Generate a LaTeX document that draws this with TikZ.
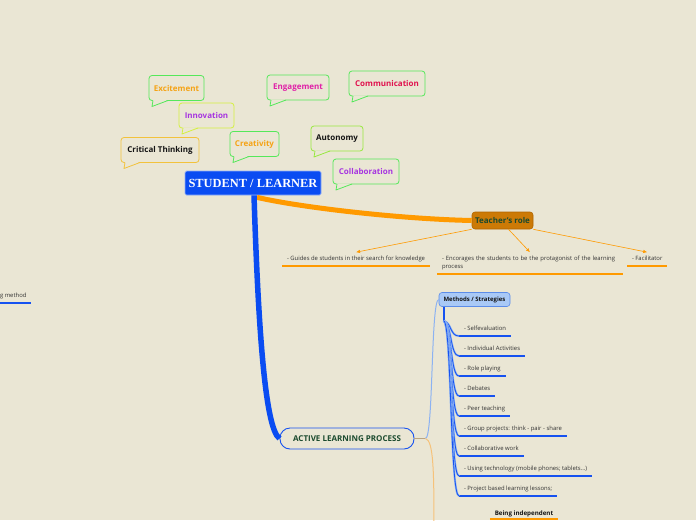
\documentclass[tikz,border=0pt]{standalone}
\usepackage{fontspec}
\setmainfont{Open Sans}
\newfontfamily\serifbold{Liberation Serif}
\usetikzlibrary{calc,arrows.meta}
\definecolor{bg}{HTML}{EAE6D4}
\definecolor{ink}{HTML}{333333}
\definecolor{sblue}{HTML}{0A4CF2}
\definecolor{ublue}{HTML}{1652F0}
\definecolor{lblue}{HTML}{8CB2F2}
\definecolor{mfill}{HTML}{A9C9F6}
\definecolor{mdraw}{HTML}{5C8CE8}
\definecolor{orng}{HTML}{FF9A00}
\definecolor{olight}{HTML}{F6C27A}
\definecolor{tfill}{HTML}{CC7A06}
\definecolor{tdraw}{HTML}{B06600}
\definecolor{dgreen}{HTML}{1B4A2E}
\definecolor{stub}{HTML}{BBA581}
\definecolor{bgreen}{HTML}{55E85A}
\definecolor{byellow}{HTML}{D4F040}
\definecolor{bgold}{HTML}{F2C23C}
\definecolor{blime}{HTML}{98E83E}
\definecolor{korange}{HTML}{F5A315}
\definecolor{kpurple}{HTML}{A634E0}
\definecolor{kmagenta}{HTML}{E020A8}
\definecolor{kred}{HTML}{E0124E}
\definecolor{kblack}{HTML}{141414}
\tikzset{
  bubble/.style={draw=#1, fill=bg, line width=0.8pt, rounded corners=3pt, outer sep=0pt,
    minimum height=25pt, inner xsep=3pt, font=\fontsize{8}{9}\selectfont\bfseries},
  root/.style={fill=sblue, draw=white!55!sblue, line width=0.7pt, rounded corners=1.5pt,
    minimum width=136pt, minimum height=24pt, text=white,
    font=\serifbold\bfseries\fontsize{12.4}{14}\selectfont},
  troot/.style={fill=tfill, draw=tdraw, line width=0.6pt, rounded corners=3pt,
    minimum width=61pt, minimum height=17pt, inner sep=1pt, text=dgreen,
    font=\fontsize{8}{9}\selectfont\bfseries},
  mroot/.style={fill=mfill, draw=mdraw, line width=0.6pt, rounded corners=3pt,
    minimum width=71pt, minimum height=14pt, inner sep=1pt, text=kblack,
    font=\fontsize{6}{7}\selectfont\bfseries},
  aroot/.style={fill=bg, draw=ublue, line width=0.9pt, rounded corners=10pt,
    minimum width=134pt, minimum height=21pt, inner sep=1pt, text=dgreen,
    font=\fontsize{8}{9}\selectfont\bfseries},
  leaf/.style={anchor=south west, inner xsep=5pt, inner ysep=4pt, outer sep=0pt,
    text height=4.3pt, text depth=1.5pt, text=ink, font=\fontsize{5.9}{8}\selectfont},
  bleaf/.style={inner xsep=5pt, inner ysep=2.3pt, outer sep=0pt, text height=4.5pt,
    text depth=1.5pt, text=kblack, font=\fontsize{6.2}{7}\selectfont\bfseries},
  ubl/.style={draw=ublue, line width=1.2pt},
  uor/.style={draw=orng, line width=1.1pt},
  sbranch/.style={draw=sblue, line width=5.5pt},
  obranch/.style={draw=orng, line width=5pt},
  tarrow/.style={draw=orng, line width=0.6pt, -{Latex[length=4pt,width=3.5pt]}},
  mbranch/.style={draw=ublue, line width=0.8pt, preaction={draw=lblue, line width=2pt}},
  mlink/.style={draw=lblue, line width=1pt},
  olink/.style={draw=olight, line width=1pt},
}
\begin{document}
\begin{tikzpicture}[x=1pt,y=-1pt]
  \fill[bg] (0,0) rectangle (696,520);
  \useasboundingbox (0,0) rectangle (696,520);
  % keyword bubbles
  \node[bubble=bgreen, minimum width=55pt, text=korange] (exc) at (176.5,88) {Excitement};
  \node[bubble=byellow, minimum width=55pt, text=kpurple] (inn) at (206.5,115.5) {Innovation};
  \node[bubble=bgold, minimum width=78pt, text=kblack] (crit) at (160,150) {Critical Thinking};
  \node[bubble=bgreen, minimum width=49pt, text=korange] (crea) at (254.5,144) {Creativity};
  \node[bubble=bgreen, minimum width=62pt, text=kmagenta] (eng) at (298,87.5) {Engagement};
  \node[bubble=bgreen, minimum width=76pt, text=kred] (comm) at (387,83.5) {Communication};
  \node[bubble=blime, minimum width=52pt, text=kblack] (aut) at (337,138.5) {Autonomy};
  \node[bubble=bgreen, minimum width=66pt, text=kpurple] (coll) at (366,171.5) {Collaboration};
  \foreach \n/\col in {exc/bgreen, inn/byellow, crit/bgold, crea/bgreen, eng/bgreen,
                       comm/bgreen, aut/blime, coll/bgreen}{
    \fill[bg] ($(\n.south west)+(4,-0.6)$) -- ($(\n.south west)+(3,6)$)
      -- ($(\n.south west)+(19,-0.6)$) -- cycle;
    \draw[\col, line width=0.8pt, line join=round] ($(\n.south west)+(4,0)$)
      -- ($(\n.south west)+(3,6)$) -- ($(\n.south west)+(19,0)$);
  }
  % main topics
  \node[root] (stu) at (253,183) {STUDENT / LEARNER};
  \node[troot] (teach) at (502.5,220.5) {Teacher's role};
  \node[aroot] (act) at (347,438.5) {ACTIVE LEARNING PROCESS};
  \node[mroot] (meth) at (474.5,299.5) {Methods / Strategies};
  \draw[obranch] ($(stu.south)+(4,2)$) .. controls +(43,10) and +(-72,-1.5) .. (teach.west);
  \draw[sbranch] ($(stu.south)+(1,0)$) .. controls +(4,125) and +(-15,-10) .. (act.west);
  % teacher's role
  \node[leaf] (t1) at (282,266) {- Guides de students in their search for knowledge};
  \node[leaf, text width=176pt, align=left, text depth=9.5pt] (t2) at (437,274)
    {- Encorages the students to be the protagonist of the learning\\process};
  \node[leaf] (t3) at (627,266) {- Facilitator};
  \foreach \n in {t1,t2,t3}
    \draw[uor] (\n.south west) -- (\n.south east);
  \draw[tarrow] (teach.south west) -- (t1.north);
  \draw[tarrow] ($(teach.south)+(6,0)$) -- (t2.north);
  \draw[tarrow] (teach.south east) -- (t3.north);
  % active learning
  \coordinate (afork) at ($(act.east)+(11,0)$);
  \coordinate (bfork) at (434,530);
  \draw[draw=stub, line width=1.2pt] (act.east) -- (afork);
  \draw[mlink] (afork) .. controls +(8,0) and +(-8,0) .. (meth.west);
  \draw[olink] (afork) .. controls +(8,2) and +(0,-60) .. (bfork);
  \coordinate (mfork) at ($(meth.south west)+(5,14)$);
  \draw[draw=ublue, line width=1.8pt] ($(meth.south west)+(5,0)$) -- (mfork);
  \foreach \txt [count=\i] in {- Selfevaluation, - Individual Activities, - Role playing,
      - Debates, - Peer teaching, - Group projects: think - pair - share,
      - Collaborative work, - Using technology (mobile phones; tablets\ldots),
      - Project based learning lessons;}{
    \node[leaf] (m\i) at (459,316+20*\i) {\txt};
    \draw[ubl] (m\i.south west) -- (m\i.south east);
    \draw[mbranch] (mfork) .. controls +(8,2) and +(-9,0) .. (m\i.south west);
  }
  \node[bleaf, anchor=south] (bi) at (524,519) {Being independent};
  \draw[uor] (bi.south west) -- (bi.south east);
  \node[leaf] (gm) at (-5,303) {g method};
  \draw[ubl] (gm.south west) -- (gm.south east);
\end{tikzpicture}
\end{document}
